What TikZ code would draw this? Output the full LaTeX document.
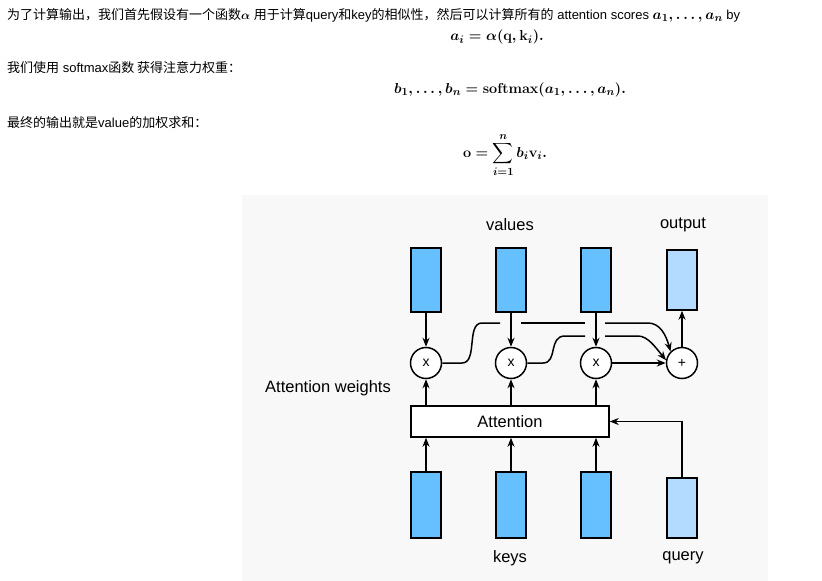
\documentclass[tikz,border=0pt]{standalone}
\usepackage{amsmath}
\usepackage[no-math]{fontspec}
\setmainfont{Liberation Sans}
\newfontfamily\cjk{Noto Sans CJK SC}
\usetikzlibrary{arrows.meta}
\definecolor{vblue}{HTML}{66BFFF}
\definecolor{lblue}{HTML}{B3DAFF}
\definecolor{bgg}{HTML}{F8F8F8}
\begin{document}
\begin{tikzpicture}[x=1pt,y=-1pt,
  vec/.style={draw=black,line width=1.5pt,fill=vblue,minimum width=30pt,minimum height=64pt,inner sep=0pt},
  lvec/.style={vec,fill=lblue,minimum height=60pt},
  op/.style={circle,draw=black,line width=1.5pt,fill=white,minimum size=31pt,inner sep=0pt,font=\fontsize{14}{16}\selectfont},
  lab/.style={font=\fontsize{16.5}{19}\selectfont},
  txt/.style={anchor=west,font=\fontsize{13}{16}\selectfont,inner sep=0pt},
  mth/.style={font=\fontsize{15}{18}\selectfont\boldmath},
  arr/.style={-{Stealth[length=9pt,width=7pt]},line width=1.5pt},
  ln/.style={line width=1.5pt}]
\useasboundingbox (0,0) rectangle (822,581);
\fill[bgg] (242,195) rectangle (768,581);
% top text
\node[txt] (t1) at (7,15) {{\cjk 为了计算输出，我们首先假设有一个函数}{\boldmath$\alpha$} {\cjk 用于计算}query{\cjk 和}key{\cjk 的相似性，然后可以计算所有的} attention scores {\fontsize{15}{16}\selectfont\boldmath$a_1,\ldots,a_n$} by};
\node[mth] (f1) at (497,37) {$a_i=\alpha(\mathbf{q},\mathbf{k}_i).$};
\node[txt] (t2) at (7,68) {{\cjk 我们使用} softmax{\cjk 函数 获得注意力权重：}};
\node[mth] (f2) at (510,90) {$b_1,\ldots,b_n=\mathrm{softmax}(a_1,\ldots,a_n).$};
\node[txt] (t3) at (7,123) {{\cjk 最终的输出就是}value{\cjk 的加权求和：}};
\node[mth] (f3) at (505,155) {$\displaystyle\mathbf{o}=\sum_{i=1}^{n}b_i\mathbf{v}_i.$};
% diagram
\node[vec] (v1) at (426,280) {};
\node[vec] (v2) at (511,280) {};
\node[vec] (v3) at (596,280) {};
\node[lvec] (out) at (682,280) {};
\node[vec,minimum height=66pt] (k1) at (426,505) {};
\node[vec,minimum height=66pt] (k2) at (511,505) {};
\node[vec,minimum height=66pt] (k3) at (596,505) {};
\node[lvec] (q) at (682,508) {};
\node[op] (m1) at (426,363) {x};
\node[op] (m2) at (511,363) {x};
\node[op] (m3) at (596,363) {x};
\node[op] (p) at (682,363) {+};
\node[draw=black,line width=1.5pt,fill=white,minimum width=198pt,minimum height=31pt,inner sep=0pt,lab] (att) at (510,421.5) {Attention};
\node[lab] (lv) at (510,225) {values};
\node[lab] (lo) at (683,225) {output};
\node[lab] (lk) at (510,558) {keys};
\node[lab] (lq) at (683,558) {query};
\node[lab] (lw) at (328,388) {Attention weights};
\foreach \i in {1,2,3}{
  \draw[arr] (v\i) -- (m\i);
  \draw[arr] (att.north -| m\i) -- (m\i);
  \draw[arr] (k\i) -- (att.south -| k\i);
}
\draw[arr] (p) -- (out);
\draw[arr] (m3) -- (p);
\coordinate (qc) at (682,421.5);
\draw[arr] (q.north) -- (qc) -- (att.east);
% weight routing
\draw[ln] (m1.east) -- (462,363) .. controls (478,363) and (466,323) .. (482,323) -- (500,323);
\draw[ln] (521,323) -- (585,323);
\draw[arr] (605,323) -- (648,323) .. controls (660,323) and (666,335) .. (p.north west);
\draw[ln] (m2.east) -- (543,363) .. controls (558,363) and (548,336) .. (565,336) -- (585,336);
\draw[arr] (605,336) -- (638,336) .. controls (648,336) and (656,348) .. (p.170);
\end{tikzpicture}
\end{document}
